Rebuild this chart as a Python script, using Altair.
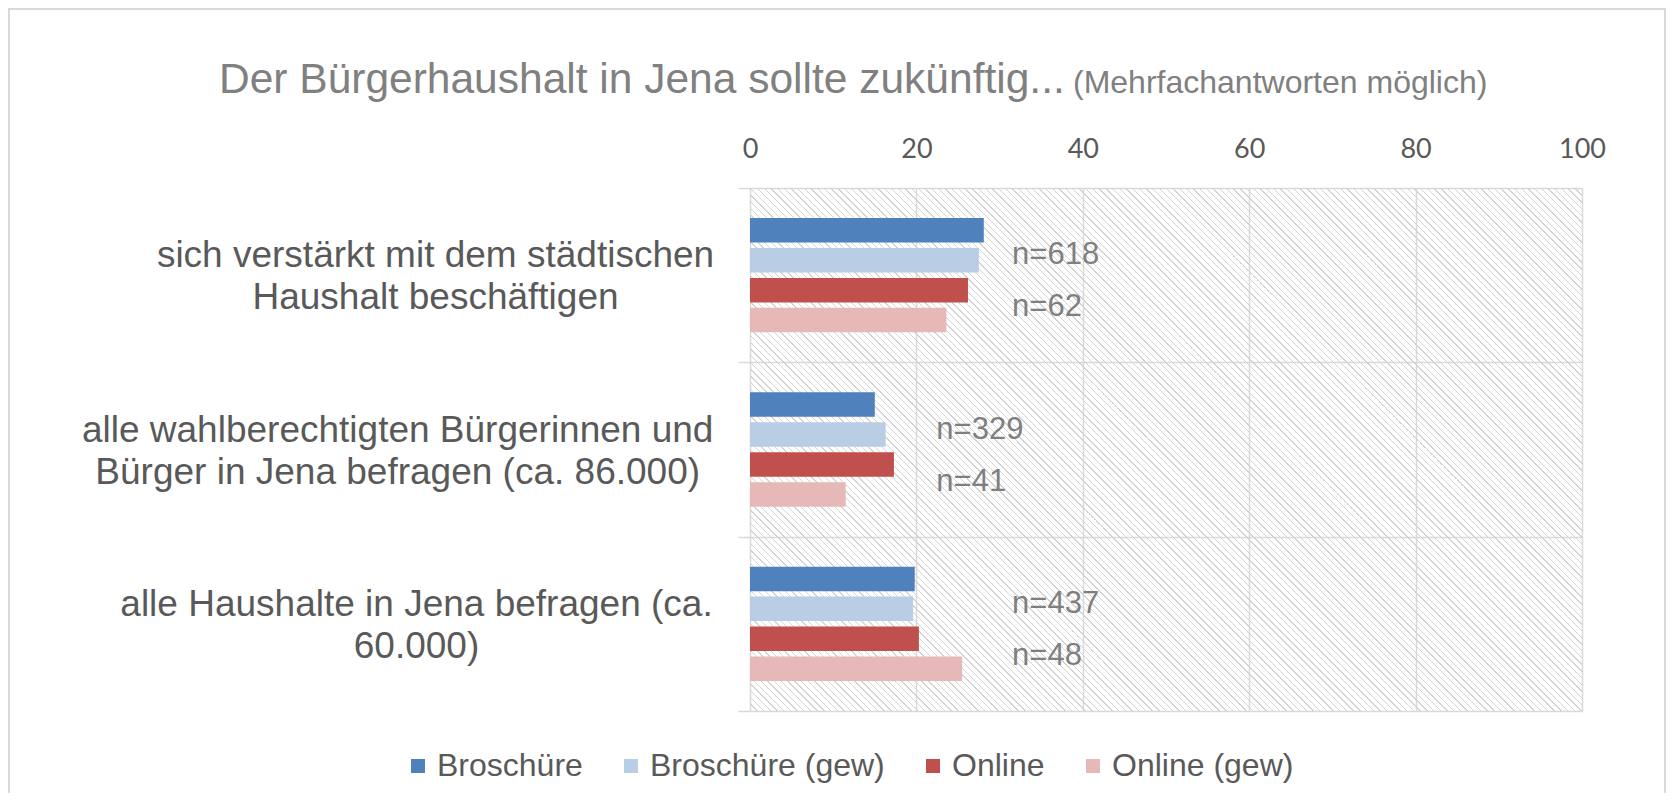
import altair as alt
import pandas as pd

# ---------------- data ----------------
categories = [
    "sich verstärkt mit dem städtischen|Haushalt beschäftigen",
    "alle wahlberechtigten Bürgerinnen und|Bürger in Jena befragen (ca. 86.000)",
    "alle Haushalte in Jena befragen (ca.|60.000)",
]
series = ["Broschüre", "Broschüre (gew)", "Online", "Online (gew)"]
colors = ["#4f81bd", "#b9cde5", "#c0504d", "#e6b9b8"]

values_broschuere = [28.1, 15.0, 19.8]
values_broschuere_gew = [27.5, 16.3, 19.6]
values_online = [26.2, 17.3, 20.3]
values_online_gew = [23.6, 11.5, 25.5]

n_broschuere = ["n=618", "n=329", "n=437"]
n_online = ["n=62", "n=41", "n=48"]
n_label_x = [31.5, 22.4, 31.5]

x_ticks = [0, 20, 40, 60, 80, 100]
title_main = "Der Bürgerhaushalt in Jena sollte zukünftig..."
title_sub = "(Mehrfachantworten möglich)"

# ---------------- tables ----------------
rows = []
for s, vals in zip(series, [values_broschuere, values_broschuere_gew, values_online, values_online_gew]):
    for c, v in zip(categories, vals):
        rows.append({"cat": c, "series": s, "value": v})
bars_df = pd.DataFrame(rows)
labels_df = pd.DataFrame({"cat": categories, "x": n_label_x, "top": n_broschuere, "bottom": n_online})

FONT = "Liberation Sans, Arial, sans-serif"
W, H = 832, 523
GRID = "#d9d9d9"

y_scale = alt.Scale(domain=categories, paddingInner=0, paddingOuter=0)
x_scale = alt.Scale(domain=[0, 100], nice=False, zero=True)

y_axis = alt.Axis(
    title=None, orient="left", tickBand="extent", ticks=True, tickSize=12,
    tickColor=GRID, tickWidth=1.5, domain=False, grid=True, gridColor=GRID,
    gridWidth=1.5, labels=False,
)
x_axis = alt.Axis(
    orient="top", values=x_ticks, title=None, ticks=False, tickSize=0, domain=False,
    grid=True, gridColor=GRID, gridWidth=1.5, labelFlush=False,
    labelFont="Lato", labelFontSize=27, labelColor="#595959",
    labelPadding=25, labelAngle=0,
)

# ---------------- hatch texture (thin diagonal stripes, transparent gaps) ----------------
period = 6.7 / (W + H)
frac = 0.2
stripe = "#d4d4d4"
clear = "rgba(255,255,255,0)"
stops = []
k = 0
while k * period < 1:
    a = k * period
    b = min(1.0, a + frac * period)
    c = min(1.0, (k + 1) * period)
    stops += [
        alt.GradientStop(color=stripe, offset=round(a, 6)),
        alt.GradientStop(color=stripe, offset=round(b, 6)),
        alt.GradientStop(color=clear, offset=round(b, 6)),
        alt.GradientStop(color=clear, offset=round(c, 6)),
    ]
    k += 1
kk = (W + H) / (W * W + H * H)
hatch = alt.LinearGradient(gradient="linear", stops=stops,
                           x1=0, y1=1, x2=round(W * kk, 6), y2=round(1 - H * kk, 6))

hatch_layer = alt.Chart(pd.DataFrame({"a": [0]})).mark_rect(fill=hatch, strokeWidth=0).encode(
    x=alt.value(0), x2=alt.value(W), y=alt.value(0), y2=alt.value(H),
)

frame_layer = alt.Chart(pd.DataFrame({"a": [0]})).mark_rect(
    filled=False, stroke=GRID, strokeWidth=2
).encode(x=alt.value(-741), x2=alt.value(915), y=alt.value(-179), y2=alt.value(640))

bars = alt.Chart(bars_df).mark_bar(strokeWidth=0).encode(
    x=alt.X("value:Q", scale=x_scale, axis=x_axis),
    y=alt.Y("cat:N", scale=y_scale, axis=y_axis),
    yOffset=alt.YOffset("series:N", sort=series,
                        scale=alt.Scale(domain=series, paddingInner=0.182, paddingOuter=1)),
    color=alt.Color(
        "series:N",
        scale=alt.Scale(domain=series, range=colors),
        legend=alt.Legend(
            orient="none", legendX=-348, legendY=562, direction="horizontal",
            title=None, symbolType="square", symbolSize=196, symbolStrokeWidth=0,
            symbolOpacity=1, labelFont=FONT, labelFontSize=32, labelColor="#595959",
            columnPadding=32, labelOffset=3, padding=0, labelLimit=500,
        ),
    ),
)

# category labels (centred multi-line text left of the plot)
label_centres = [-314.5, -352.3, -333.5]
cat_label_layers = []
for c, cx in zip(categories, label_centres):
    cat_label_layers.append(
        alt.Chart(pd.DataFrame({"cat": [c]})).mark_text(
            font=FONT, fontSize=37, color="#595959", align="center", baseline="middle",
            lineBreak="|", lineHeight=42, dy=-19,
        ).encode(y=alt.Y("cat:N", scale=y_scale, axis=y_axis), x=alt.value(cx), text="cat:N")
    )

n_top = alt.Chart(labels_df).mark_text(
    font=FONT, fontSize=31, color="#7f7f7f", align="left", baseline="middle", dy=-20
).encode(x=alt.X("x:Q", scale=x_scale, axis=x_axis),
         y=alt.Y("cat:N", scale=y_scale, axis=y_axis), text="top:N")
n_bottom = alt.Chart(labels_df).mark_text(
    font=FONT, fontSize=31, color="#7f7f7f", align="left", baseline="middle", dy=32
).encode(x=alt.X("x:Q", scale=x_scale, axis=x_axis),
         y=alt.Y("cat:N", scale=y_scale, axis=y_axis), text="bottom:N")

t_main = alt.Chart(pd.DataFrame({"t": [title_main]})).mark_text(
    font=FONT, fontSize=42.5, color="#808080", align="left", baseline="alphabetic"
).encode(x=alt.value(-531), y=alt.value(-95), text="t:N")
t_sub = alt.Chart(pd.DataFrame({"t": [title_sub]})).mark_text(
    font=FONT, fontSize=32, color="#808080", align="left", baseline="alphabetic"
).encode(x=alt.value(323), y=alt.value(-95), text="t:N")

chart = alt.layer(
    frame_layer, hatch_layer, bars, n_top, n_bottom, *cat_label_layers, t_main, t_sub
).properties(
    width=W, height=H,
    autosize=alt.AutoSizeParams(type="none"),
    padding={"left": 742, "top": 180, "right": 84, "bottom": 82},
).configure(background="white").configure_view(stroke=None, fill="#ffffff")

chart.save("out.html", embed_options={"renderer": "svg", "actions": False})
